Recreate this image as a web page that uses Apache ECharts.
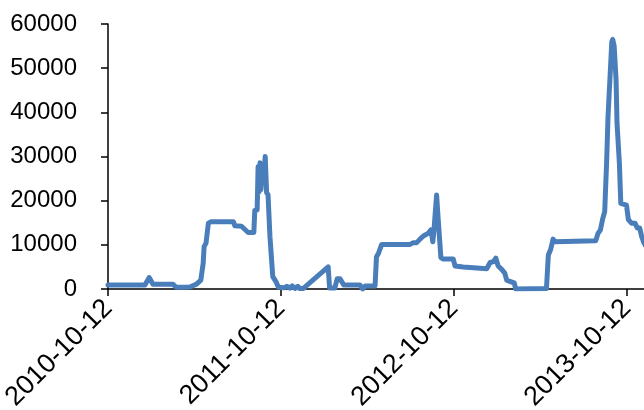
<!DOCTYPE html>
<html>
<head>
<meta charset="utf-8">
<script src="https://cdn.jsdelivr.net/npm/echarts@6/dist/echarts.min.js"></script>
<style>
html,body{margin:0;padding:0;background:#fff;}
#c{width:644px;height:410px;}
</style>
</head>
<body>
<div id="c"></div>
<script>
const startDate = '2010-10-12';
const xTickLabels = ['2010-10-12', '2011-10-12', '2012-10-12', '2013-10-12'];
const yTickValues = [0, 10000, 20000, 30000, 40000, 50000, 60000];

const dates = [
 '2010-10-12','2010-12-29','2011-01-07','2011-01-15','2011-02-26','2011-03-05','2011-03-26','2011-03-30',
 '2011-04-03','2011-04-17','2011-04-26','2011-05-01','2011-05-03','2011-05-07','2011-05-12','2011-05-17',
 '2011-07-04','2011-07-07','2011-07-21','2011-07-26','2011-08-04','2011-08-16','2011-08-18','2011-08-23',
 '2011-08-25','2011-08-27','2011-08-29','2011-08-31','2011-09-03','2011-09-05','2011-09-09','2011-09-12',
 '2011-09-15','2011-09-19','2011-09-25','2011-10-02','2011-10-07','2011-10-19','2011-10-25','2011-10-31',
 '2011-11-05','2011-11-11','2011-11-17','2011-11-21','2011-11-28','2012-01-20','2012-01-23','2012-02-03',
 '2012-02-08','2012-02-14','2012-02-22','2012-03-27','2012-04-02','2012-04-07','2012-04-28','2012-05-01',
 '2012-05-05','2012-05-12','2012-07-11','2012-07-18','2012-07-25','2012-08-01','2012-08-08','2012-08-18',
 '2012-08-24','2012-08-28','2012-08-30','2012-09-05','2012-09-08','2012-09-14','2012-09-19','2012-10-10',
 '2012-10-14','2012-10-31','2012-11-04','2012-12-20','2012-12-27','2013-01-03','2013-01-08','2013-01-13',
 '2013-01-20','2013-01-27','2013-01-31','2013-02-07','2013-02-16','2013-02-19','2013-04-25','2013-04-29',
 '2013-05-04','2013-05-09','2013-05-13','2013-05-16','2013-08-07','2013-08-12','2013-08-17','2013-08-22',
 '2013-08-26','2013-08-30','2013-09-02','2013-09-06','2013-09-10','2013-09-12','2013-09-15','2013-09-19',
 '2013-09-21','2013-09-26','2013-09-29','2013-10-11','2013-10-15','2013-10-22','2013-10-29','2013-11-03',
 '2013-11-08','2013-11-12','2013-11-17','2013-11-25'
];
const values = [
 900,900,2600,1100,1100,400,400,0,
 450,1100,2000,5800,9600,10400,14900,15200,
 15200,14300,14200,13700,12800,12800,17800,17900,
 27700,22000,28600,22500,28000,24000,30000,21800,
 21300,11900,2800,1600,400,300,600,200,
 700,150,600,100,100,5000,200,200,
 2300,2300,900,900,0,700,700,7300,
 8000,10100,10100,10500,10500,11300,12000,12600,
 13400,10700,12800,21300,16400,7100,6800,6800,
 5200,5000,4600,4600,6000,6200,7000,5200,
 4500,3600,2000,1700,1400,0,100,7700,
 9000,11300,10700,10800,10900,12600,13400,16000,
 17500,28500,39000,47400,56000,56500,55000,47400,
 37600,28500,19400,19000,15700,14900,14900,13800,
 13800,11900,10400,9000
];

const DAY = 86400000;
const t0 = Date.parse(startDate + 'T00:00:00Z');
function dayIndex(s){ return Math.round((Date.parse(s + 'T00:00:00Z') - t0) / DAY); }
const YEAR = 365.25;
const seriesData = dates.map((d, i) => [dayIndex(d), values[i]]);

const font = "'Liberation Sans', Arial, sans-serif";
const chart = echarts.init(document.getElementById('c'), null, {renderer: 'canvas'});
chart.setOption({
  animation: false,
  backgroundColor: '#ffffff',
  grid: {left: 108, right: 0, top: 24, bottom: 121, containLabel: false, outerBoundsMode: 'none'},
  xAxis: {
    type: 'value',
    min: 0,
    max: dayIndex('2013-11-17'),
    interval: YEAR,
    axisLine: {show: true, lineStyle: {color: '#000', width: 1.5}},
    axisTick: {show: true, inside: false, length: 7, lineStyle: {color: '#000', width: 1.5}},
    splitLine: {show: false},
    axisLabel: {
      rotate: 45,
      margin: 15,
      fontSize: 27,
      fontFamily: font,
      color: '#000',
      showMaxLabel: false,
      formatter: function(v){
        const k = Math.round(v / YEAR);
        return (Math.abs(v - k * YEAR) < 1 && xTickLabels[k]) ? xTickLabels[k] : '';
      }
    }
  },
  yAxis: {
    type: 'value',
    min: yTickValues[0],
    max: yTickValues[yTickValues.length - 1],
    interval: yTickValues[1] - yTickValues[0],
    axisLine: {show: true, lineStyle: {color: '#000', width: 1.5}},
    axisTick: {show: true, inside: false, length: 7, lineStyle: {color: '#000', width: 1.5}},
    splitLine: {show: false},
    axisLabel: {margin: 31, fontSize: 24, fontFamily: font, color: '#000', formatter: function(v){ return String(v); }}
  },
  series: [{
    type: 'line',
    data: seriesData,
    showSymbol: false,
    symbol: 'none',
    clip: true,
    lineStyle: {color: '#4a7ebb', width: 5, cap: 'round', join: 'round'}
  }]
});
</script>
</body>
</html>
